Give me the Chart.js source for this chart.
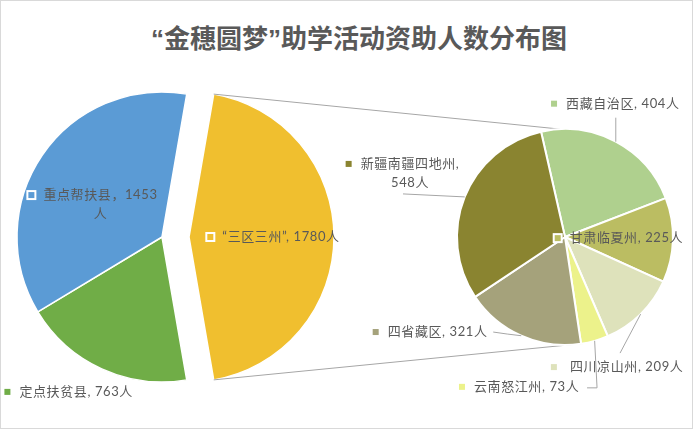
<!DOCTYPE html>
<html>
<head>
<meta charset="utf-8">
<script src="https://cdn.jsdelivr.net/npm/chart.js@4.4.0/dist/chart.umd.min.js"></script>
<style>
  html, body { margin: 0; padding: 0; background: #fff; }
  #wrap { position: relative; width: 693px; height: 429px; overflow: hidden; }
  #wrap canvas { position: absolute; left: 0; top: 0; }
  #frame { position: absolute; left: 0; top: 0; width: 693px; height: 429px; box-sizing: border-box; border: 1px solid #d9d9d9; pointer-events: none; }
  #title { position: absolute; top: 24px; left: 359px; transform: translateX(-50%); white-space: nowrap;
           font: bold 26px/30px "Liberation Sans", "Noto Sans CJK SC", sans-serif; color: #595959; }
</style>
</head>
<body>
<div id="wrap">
  <div id="title">“金穗圆梦”助学活动资助人数分布图</div>
  <canvas id="mainPie" width="693" height="429"></canvas>
  <canvas id="bigSlice" width="693" height="429"></canvas>
  <canvas id="subPie" width="693" height="429"></canvas>
  <div id="frame"></div>
</div>
<script>
// data
const mainNames = ['“三区三州”', '定点扶贫县', '重点帮扶县'];
const mainValues = [1780, 763, 1453];
const subNames = ['西藏自治区', '甘肃临夏州', '四川凉山州', '云南怒江州', '四省藏区', '新疆南疆四地州'];
const subValues = [404, 225, 209, 73, 321, 548];

const mainColors = ['#F0BF2F', '#70AD47', '#5B9BD5'];
const subColors = ['#AFD08E', '#BBBD62', '#DEE2BB', '#ECF28B', '#A5A27B', '#8A8430'];

const TEXT = '#595959';
const LINE = '#A6A6A6';
const LABEL_FONT = '13px Lato, "Noto Sans CJK SC", sans-serif';
const EXPLODE = 27; // px the "三区三州" slice is pulled out

// label placement, relative to a point on the slice's middle ray (f = fraction of radius)
const mainLayout = [
  { f: 0, dx: 92, dy: 0, key: 'inside' },
  { f: 1, dx: -25.6, dy: 23, key: 'outside' },
  { f: 0.5, dx: -1.7, dy: -1, key: 'inside', sep: '，', wrap: 'unit' }
];
const subLayout = [
  { f: 1, dx: 7, dy: -38, key: 'outside', leader: [[0, -24]] },
  { f: 1, dx: -46.5, dy: -2, key: 'inside' },
  { f: 1, dx: -14, dy: 53, key: 'outside', gap: 16, leader: [[-20.6, 39]] },
  { f: 1, dx: -68, dy: 46, key: 'outside', leader: [[2.4, 47], [-7.6, 47]] },
  { f: 1, dx: -83.6, dy: -3.7, key: 'outside', leader: [[-14, -1.7], [-28, -3.7]] },
  { f: 1, dx: -54.7, dy: -33, key: 'outside', leader: [[-61.7, -3]], wrap: 'value' }
];

function labelLines(name, value, L) {
  const sep = L.sep || ', ';
  if (L.wrap === 'unit') return [name + sep + value, '人'];
  if (L.wrap === 'value') return [name + sep.trim(), value + '人'];
  return [name + sep + value + '人'];
}

function drawLabels(chart, layout, names, values, colors, which) {
  const ctx = chart.ctx;
  const arcs = chart.getDatasetMeta(0).data;
  ctx.save();
  ctx.font = LABEL_FONT;
  ctx.textBaseline = 'middle';
  ctx.textAlign = 'center';
  arcs.forEach((arc, i) => {
    if (which && !which.includes(i)) return;
    const L = layout[i];
    const mid = (arc.startAngle + arc.endAngle) / 2;
    const px = arc.x + Math.cos(mid) * arc.outerRadius * L.f;
    const py = arc.y + Math.sin(mid) * arc.outerRadius * L.f;

    if (L.leader) {
      ctx.strokeStyle = LINE;
      ctx.lineWidth = 1;
      ctx.beginPath();
      ctx.moveTo(px, py);
      L.leader.forEach(p => ctx.lineTo(px + p[0], py + p[1]));
      ctx.stroke();
    }

    const lines = labelLines(names[i], values[i], L);
    const tx = px + L.dx, ty = py + L.dy;
    ctx.fillStyle = TEXT;
    ctx.letterSpacing = '0.6px';
    lines.forEach((s, j) => ctx.fillText(s, tx, ty + j * 18.5));
    ctx.letterSpacing = '0px';

    const w = ctx.measureText(lines[0]).width + 0.6 * lines[0].length;
    const kx = tx - w / 2 - (L.gap || 12);
    if (L.key === 'inside') {
      ctx.fillStyle = colors[i];
      ctx.fillRect(kx - 4, ty - 4, 8, 8);
      ctx.strokeStyle = '#fff';
      ctx.lineWidth = 2;
      ctx.strokeRect(kx - 4, ty - 4, 8, 8);
    } else {
      ctx.fillStyle = colors[i];
      ctx.fillRect(kx - 3, ty - 3, 6, 6);
    }
  });
  ctx.restore();
}

const mainTotal = mainValues.reduce((a, b) => a + b, 0);
const bigShare = mainValues[0] / mainTotal;

// the left pie is drawn twice: once for the two kept slices, once (shifted) for the exploded one
function leftPie(id, shown, shift) {
  return new Chart(document.getElementById(id), {
    type: 'pie',
    data: {
      labels: mainNames,
      datasets: [{
        data: mainValues,
        backgroundColor: mainColors.map((c, i) => shown.includes(i) ? c : 'rgba(0,0,0,0)'),
        borderColor: mainColors.map((c, i) => shown.includes(i) ? '#fff' : 'rgba(0,0,0,0)'),
        borderWidth: 1.5
      }]
    },
    options: {
      responsive: false,
      animation: false,
      events: [],
      radius: 145,
      rotation: 90 - bigShare * 180,
      layout: { padding: { left: shift, right: 369 - shift, top: 45, bottom: 0 } },
      plugins: { legend: { display: false }, tooltip: { enabled: false } }
    },
    plugins: [{
      id: 'leftLabels',
      afterDatasetsDraw(chart) {
        drawLabels(chart, mainLayout, mainNames, mainValues, mainColors, shown);
      }
    }]
  });
}

leftPie('mainPie', [1, 2], 0);
const bigChart = leftPie('bigSlice', [0], EXPLODE);

new Chart(document.getElementById('subPie'), {
  type: 'pie',
  data: {
    labels: subNames,
    datasets: [{
      data: subValues,
      backgroundColor: subColors,
      borderColor: '#fff',
      borderWidth: 2
    }]
  },
  options: {
    responsive: false,
    animation: false,
    events: [],
    radius: 108,
    rotation: -12.8,
    layout: { padding: { left: 437, right: 0, top: 45, bottom: 0 } },
    plugins: { legend: { display: false }, tooltip: { enabled: false } }
  },
  plugins: [{
    id: 'connectors',
    beforeDatasetsDraw(chart) {
      // lines from the exploded slice to the secondary pie
      const big = bigChart.getDatasetMeta(0).data[0];
      const R = big.outerRadius;
      const sub = chart.getDatasetMeta(0).data[0];
      const r = sub.outerRadius;
      const topA = (-2.6 - 90) * Math.PI / 180;
      const botA = (170.5 - 90) * Math.PI / 180;
      const ctx = chart.ctx;
      ctx.save();
      ctx.strokeStyle = LINE;
      ctx.lineWidth = 1;
      ctx.beginPath();
      ctx.moveTo(big.x + Math.cos(big.startAngle) * R, big.y + Math.sin(big.startAngle) * R);
      ctx.lineTo(sub.x + Math.cos(topA) * r, sub.y + Math.sin(topA) * r);
      ctx.moveTo(big.x + Math.cos(big.endAngle) * R, big.y + Math.sin(big.endAngle) * R);
      ctx.lineTo(sub.x + Math.cos(botA) * r, sub.y + Math.sin(botA) * r);
      ctx.stroke();
      ctx.restore();
    },
    afterDatasetsDraw(chart) {
      drawLabels(chart, subLayout, subNames, subValues, subColors);
    }
  }]
});
</script>
</body>
</html>
